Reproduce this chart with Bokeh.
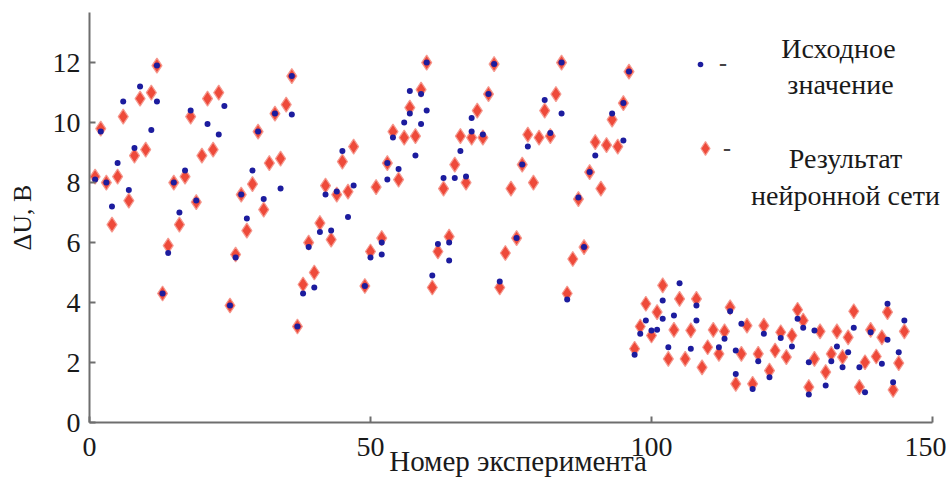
from bokeh.plotting import figure
from bokeh.models import Range1d, FixedTicker, Legend, LegendItem, Label
from bokeh.embed import file_html
from bokeh.resources import INLINE

# ---- data ----
red_exp = [*range(1, 24), *range(25, 48), *range(49, 146)]
red_val = [8.2, 9.8, 8.0, 6.6, 8.2, 10.2, 7.4, 8.9, 10.8, 9.1, 11.0, 11.9,
           4.3, 5.9, 8.0, 6.6, 8.2, 10.2, 7.35, 8.9, 10.8, 9.1, 11.0,
           3.9, 5.6, 7.6, 6.4, 7.95, 9.7, 7.1, 8.65, 10.3, 8.8, 10.6, 11.55,
           3.2, 4.6, 6.0, 5.0, 6.65, 7.9, 6.1, 7.6, 8.7, 7.7, 9.2,
           4.55, 5.7, 7.85, 6.15, 8.65, 9.7, 8.1, 9.5, 10.5, 9.55, 11.1, 12.0,
           4.5, 5.7, 7.8, 6.2, 8.6, 9.55, 8.0, 9.5, 10.4, 9.5, 10.95, 11.95,
           4.5, 5.65, 7.8, 6.15, 8.6, 9.6, 8.0, 9.5, 10.4, 9.55, 10.95, 12.0,
           4.3, 5.45, 7.45, 5.85, 8.35, 9.35, 7.8, 9.25, 10.1, 9.2, 10.65, 11.7,
           2.46, 3.2, 3.96, 2.9, 3.68, 4.57, 2.12, 3.09, 4.12, 2.12, 3.07, 4.12,
           1.84, 2.51, 3.09, 2.29, 3.04, 3.84, 1.29, 2.29, 3.23, 1.29, 2.29, 3.23,
           1.73, 2.4, 3.01, 2.18, 2.9, 3.76, 3.4, 1.18, 2.12, 3.04, 1.68, 2.29,
           3.04, 2.18, 2.84, 3.71, 1.18, 2.01, 3.09, 2.2, 2.84, 3.68, 1.09, 1.98, 3.04]

blue_exp = [1, 2, 3, 4, 5, 6, 7, 8, 9, 11, 12, 12,
            13, 14, 15, 16, 17, 18, 19, 21, 23, 24,
            25, 26, 27, 28, 29, 30, 31, 33, 34, 36, 36,
            37, 38, 39, 40, 41, 42, 43, 44, 45, 46, 47,
            49, 50, 52, 52, 53, 53, 54, 55, 56, 57, 57, 58, 59, 59, 60, 60,
            61, 62, 63, 64, 64, 65, 66, 67, 68, 68, 70, 71, 72,
            73, 76, 77, 78, 81, 82, 84, 84,
            85, 87, 88, 89, 90, 93, 95, 95, 96,
            97, 98, 99, 100, 101, 102, 102, 103, 104, 105, 107, 108, 108,
            112, 113, 114, 115, 115, 116, 118, 119, 120, 121, 123, 125, 126,
            127, 128, 128, 129, 131, 132, 133, 134, 135, 136, 137, 138, 139,
            141, 142, 142, 143, 144, 145]
blue_val = [8.1, 9.7, 8.0, 7.2, 8.65, 10.7, 7.75, 9.15, 11.2, 9.75, 10.7, 11.9,
            4.3, 5.65, 8.0, 7.0, 8.4, 10.4, 7.4, 9.95, 9.6, 10.55,
            3.9, 5.5, 7.6, 6.8, 8.4, 9.7, 7.45, 10.3, 7.8, 10.27, 11.55,
            3.2, 4.3, 5.85, 4.5, 6.35, 7.6, 6.4, 7.7, 9.05, 6.85, 7.9,
            4.55, 5.5, 6.0, 5.6, 8.65, 8.1, 9.5, 8.45, 10.0, 11.05, 10.3, 8.9, 9.95, 10.95, 10.4, 12.0,
            4.9, 5.95, 8.15, 6.0, 5.4, 8.15, 9.05, 8.2, 9.7, 10.15, 9.6, 10.95, 11.95,
            4.7, 6.15, 8.6, 9.2, 10.75, 9.65, 10.3, 12.0,
            4.1, 7.5, 5.85, 8.35, 8.9, 10.3, 9.4, 10.65, 11.7,
            2.26, 2.96, 3.4, 3.07, 3.09, 4.07, 3.46, 2.51, 3.57, 4.64, 2.46, 3.9, 3.4,
            2.51, 2.79, 3.71, 1.62, 2.4, 3.29, 1.12, 2.04, 2.96, 1.51, 2.82, 2.53, 3.46,
            3.16, 0.93, 2.01, 3.07, 1.23, 2.04, 2.53, 1.84, 2.34, 3.16, 1.84, 1.01, 3.01,
            1.96, 2.76, 3.96, 1.34, 2.34, 3.4]

x_ticks = [0, 50, 100, 150]
y_ticks = [0, 2, 4, 6, 8, 10, 12]

x_title = "Номер эксперимента"
y_title = "ΔU, В"
legend_lines_blue = ["Исходное", "значение"]
legend_lines_red = ["Результат", "нейронной сети"]

FONT = "Liberation Serif"
AXIS_COLOR = "#6e6e6e"
TEXT_COLOR = "#1a1a1a"

p = figure(width=946, height=487, output_backend="svg", toolbar_location=None,
           x_range=Range1d(0, 152.5), y_range=Range1d(0, 13.67),
           min_border_left=89, min_border_right=0, min_border_top=12,
           min_border_bottom=65)
p.outline_line_color = None
p.xgrid.visible = False
p.ygrid.visible = False
p.background_fill_color = "white"
p.border_fill_color = "white"

r_red = p.scatter(red_exp, red_val, marker="diamond", size=15,
                  fill_color="#ee4a3a", line_color="#f59a90", line_width=1.2)
r_blue = p.scatter(blue_exp, blue_val, marker="circle", size=6,
                   fill_color="#1c1c9e", line_color=None)

p.xaxis.ticker = FixedTicker(ticks=x_ticks)
p.yaxis.ticker = FixedTicker(ticks=y_ticks)
p.xaxis.bounds = (0, 150)
for ax in (p.xaxis[0], p.yaxis[0]):
    ax.axis_line_color = AXIS_COLOR
    ax.axis_line_width = 2
    ax.major_tick_in = 6
    ax.major_tick_out = 0
    ax.major_tick_line_color = AXIS_COLOR
    ax.major_tick_line_width = 2
    ax.minor_tick_line_color = None
    ax.major_label_text_font = FONT
    ax.major_label_text_font_size = "28px"
    ax.major_label_text_color = TEXT_COLOR
    ax.axis_label_text_font = FONT
    ax.axis_label_text_font_style = "normal"
    ax.axis_label_text_color = TEXT_COLOR

p.xaxis.axis_label = x_title
p.yaxis.axis_label = y_title
p.xaxis.axis_label_text_font_size = "29px"
p.yaxis.axis_label_text_font_size = "26px"
p.xaxis.major_label_standoff = 15
p.xaxis.axis_label_standoff = -14
p.yaxis.major_label_standoff = 9
p.yaxis.axis_label_standoff = 13

legend_blue = Legend(items=[LegendItem(label="-", renderers=[r_blue])],
                     location=(604, 345), padding=0, margin=0,
                     glyph_width=14, glyph_height=14, label_standoff=12,
                     label_text_font=FONT, label_text_font_size="24px",
                     label_text_font_style="bold",
                     label_text_color="#444444", border_line_color=None,
                     background_fill_alpha=0)
legend_red = Legend(items=[LegendItem(label="-", renderers=[r_red])],
                    location=(599, 257), padding=0, margin=0,
                    glyph_width=34, glyph_height=34, label_standoff=1,
                    label_text_font=FONT, label_text_font_size="24px",
                    label_text_font_style="bold",
                    label_text_color="#444444", border_line_color=None,
                    background_fill_alpha=0)
p.add_layout(legend_blue)
p.add_layout(legend_red)

for txt, (lx, ly) in zip(legend_lines_blue + legend_lines_red,
                         [(749, 374), (751, 338), (756, 264), (756, 227)]):
    p.add_layout(Label(x=lx, y=ly, x_units="screen", y_units="screen", text=txt,
                       text_align="center", text_baseline="middle",
                       text_font=FONT, text_font_size="28px", text_color=TEXT_COLOR))

open("out.html", "w").write(file_html(p, INLINE))
